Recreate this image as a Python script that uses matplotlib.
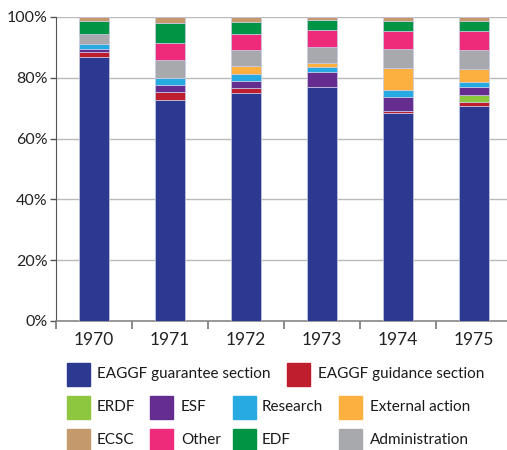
import numpy as np
import matplotlib.pyplot as plt
from matplotlib.patches import Rectangle

plt.rcParams['font.family'] = ['Lato', 'DejaVu Sans']

years = ['1970', '1971', '1972', '1973', '1974', '1975']

# shares in % (bottom to top of each stack)
eaggf_guarantee = [86.7, 72.7, 75.1, 76.9, 68.3, 70.7]
eaggf_guidance = [1.7, 2.5, 1.6, 0.0, 0.8, 1.3]
erdf = [0.0, 0.0, 0.0, 0.0, 0.0, 2.4]
esf = [1.1, 2.4, 2.4, 5.1, 4.7, 2.5]
research = [1.7, 2.4, 2.2, 1.7, 2.3, 1.8]
external = [0.0, 0.0, 2.5, 1.3, 7.0, 4.2]
administration = [3.2, 6.0, 5.2, 5.1, 6.3, 6.1]
other = [0.0, 5.4, 5.4, 5.5, 6.0, 6.3]
edf = [4.2, 6.5, 3.9, 3.5, 3.3, 3.3]
ecsc = [1.4, 2.1, 1.7, 0.9, 1.3, 1.4]

series = [
    ('EAGGF guarantee section', eaggf_guarantee, '#2B3990'),
    ('EAGGF guidance section', eaggf_guidance, '#BE1E2D'),
    ('ERDF', erdf, '#8DC63F'),
    ('ESF', esf, '#662D91'),
    ('Research', research, '#27AAE1'),
    ('External action', external, '#FBB040'),
    ('Administration', administration, '#A7A9AC'),
    ('Other', other, '#EE2A7B'),
    ('EDF', edf, '#009444'),
    ('ECSC', ecsc, '#C49A6C'),
]

W, H = 507, 450
fig = plt.figure(figsize=(W / 100, H / 100), dpi=100)
ax = fig.add_axes([56 / W, 1 - 321 / H, 456 / W, 304 / H])

x = np.arange(len(years))
bottom = np.zeros(len(years))
for name, vals, col in series:
    vals = np.array(vals)
    ax.bar(x, vals, 0.4, bottom=bottom, color=col, edgecolor='#c8cbe6',
           linewidth=0.5, zorder=3)
    bottom += vals

ax.set_xlim(-0.5, len(years) - 0.5)
ax.set_ylim(0, 100)
ax.set_yticks(np.arange(0, 101, 20))
ax.set_yticklabels([f'{v}%' for v in range(0, 101, 20)], fontsize=11.5, color='#222222')
ax.set_xticks(x)
ax.set_xticklabels(years, fontsize=12.5, color='#222222')
ax.set_xticks(np.arange(-0.5, len(years), 1), minor=True)
ax.tick_params(axis='x', which='major', length=0, pad=8)
ax.tick_params(axis='x', which='minor', length=6, color='#777777', width=1.2)
ax.tick_params(axis='y', length=4, color='#555555', width=1, pad=2)
ax.yaxis.grid(True, color='#bbbbbb', linewidth=1, zorder=0)
for s in ['top', 'right']:
    ax.spines[s].set_visible(False)
ax.spines['left'].set_color('#555555')
ax.spines['bottom'].set_color('#888888')
ax.spines['bottom'].set_linewidth(1.2)

# legend laid out like the original: 2 items on first row, 4 on the next two
lookup = {name: col for name, vals, col in series}
rows = [
    [('EAGGF guarantee section', 67, 97), ('EAGGF guidance section', 287, 318)],
    [('ERDF', 67, 97), ('ESF', 150, 181), ('Research', 233, 262), ('External action', 339, 370)],
    [('ECSC', 67, 97), ('Other', 150, 181), ('EDF', 233, 262), ('Administration', 339, 370)],
]
row_y = [374, 407, 440]
for ry, row in zip(row_y, rows):
    for name, bx, tx in row:
        fig.add_artist(Rectangle((bx / W, 1 - (ry + 11.5) / H), 23 / W, 23 / H,
                                 transform=fig.transFigure, color=lookup[name]))
        fig.text(tx / W, 1 - ry / H, name, fontsize=11, va='center', ha='left',
                 color='#1a1a1a')

fig.savefig('out.png', dpi=100)
